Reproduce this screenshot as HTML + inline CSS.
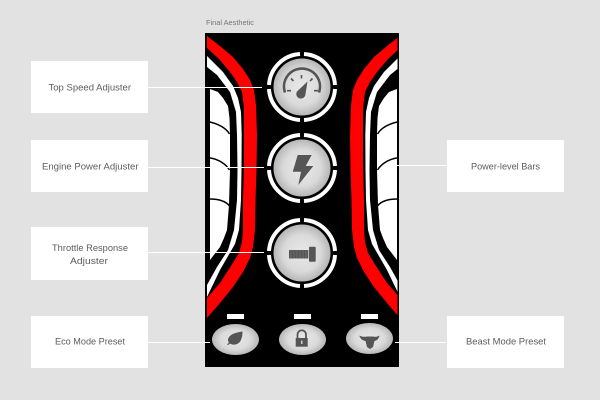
<!DOCTYPE html>
<html><head><meta charset="utf-8"><style>html,body{margin:0;padding:0;background:#e2e2e2}svg{display:block}text{font-family:"Liberation Sans",sans-serif}</style></head>
<body>
<svg width="600" height="400" viewBox="0 0 600 400" xmlns="http://www.w3.org/2000/svg">
<defs>
<radialGradient id="d" cx="50%" cy="50%" r="50%"><stop offset="0" stop-color="#e9e9e9"/><stop offset=".65" stop-color="#dadada"/><stop offset="1" stop-color="#b6b6b6"/></radialGradient>
<clipPath id="ph"><rect x="205" y="33" width="192.5" height="334"/></clipPath>
<g id="bands">
<polygon fill="#f00" points="207,36 220,46 233,57 243,69 250,80 254,90 256,105 257,135 256.5,170 255.5,200 255,230 253,247 250,258 243,272 233,287 220,303 207,318 207,298 220,283 231,266 239,253 242,242 243,230 243,200 244,165 244,135 244,108 242,92 237,82 230,72 219,59 207,48"/>
<polygon fill="#fff" points="207,56 223,72 233,86 238,98 241,112 241.7,135 241.5,170 241,200 239,230 235,244 220,270 207,297 207,285 217,267 228,250 234,230 237,200 237.5,170 237,135 236,112 230,92 217,75 207,67"/>
<polygon fill="#fff" points="210,89 218,92 223,98 228,106 229.5,118 230,135 230,170 229,205 227,230 224,238 220,247 210,260"/>
<g fill="none" stroke="#000" stroke-width="1.5">
<path d="M210 122 C218 124 226 128 229.5 134"/>
<path d="M210 158 C218 159 226 164 229.5 170"/>
<path d="M210 199 C218 199 226 201 229.5 206"/>
</g>
</g>
<g id="ring" fill="none" stroke="#fff" stroke-width="4">
<path d="M-2 -33 A33 33 0 0 0 -33 -2"/>
<path d="M2 -33 A33 33 0 0 1 33 -2"/>
<path d="M-2 33 A33 33 0 0 1 -33 2"/>
<path d="M2 33 A33 33 0 0 0 33 2"/>
</g>
</defs>
<rect width="600" height="400" fill="#e2e2e2"/>
<text x="206" y="25" font-size="7" fill="#777" textLength="48" lengthAdjust="spacingAndGlyphs">Final Aesthetic</text>
<rect x="205" y="33" width="194" height="334" fill="#000"/>
<use href="#bands"/>
<g clip-path="url(#ph)"><use href="#bands" transform="translate(607 0) scale(-1 1)"/></g>

<g fill="#fff">
<rect x="31" y="61" width="117" height="52"/>
<rect x="31" y="140" width="117" height="52"/>
<rect x="31" y="227" width="117" height="53"/>
<rect x="31" y="316" width="117" height="52"/>
<rect x="447" y="140" width="117" height="52"/>
<rect x="447" y="316" width="117" height="52"/>
</g>
<g fill="#5c5c5c" font-size="9.3" font-weight="400">
<text x="48.5" y="90.5" textLength="82.5" lengthAdjust="spacingAndGlyphs">Top Speed Adjuster</text>
<text x="42" y="169.5" textLength="96.5" lengthAdjust="spacingAndGlyphs">Engine Power Adjuster</text>
<text x="52" y="251" textLength="76" lengthAdjust="spacingAndGlyphs">Throttle Response</text>
<text x="70" y="264" textLength="38" lengthAdjust="spacingAndGlyphs">Adjuster</text>
<text x="55" y="344.5" textLength="70" lengthAdjust="spacingAndGlyphs">Eco Mode Preset</text>
<text x="471" y="169.5" textLength="69" lengthAdjust="spacingAndGlyphs">Power-level Bars</text>
<text x="466" y="344.5" textLength="80" lengthAdjust="spacingAndGlyphs">Beast Mode Preset</text>
</g>

<use href="#ring" x="302" y="87"/>
<use href="#ring" x="302" y="168"/>
<use href="#ring" x="302" y="253"/>
<circle cx="302" cy="87" r="28.5" fill="url(#d)"/>
<circle cx="302" cy="168" r="28.5" fill="url(#d)"/>
<circle cx="302" cy="253" r="28.5" fill="url(#d)"/>

<!-- gauge -->
<g fill="none" stroke="#555" stroke-width="2.2">
<path d="M285 92.5 A18 18 0 1 1 319 92.5" stroke-width="2.6"/>
<path d="M287 90.7H291M314 90.7H318M301.5 75V78.5M291 78.5L293.5 81M312.5 78.5L310 81" stroke-width="1.6"/>
</g>
<path d="M307.5 81.5 L305.5 94 A4.6 4.6 0 1 1 297 91.5 Z" fill="#555"/>
<!-- bolt -->
<path d="M297.7 155H311.7L305.7 166H313.3L298.3 185L301 171.7H292.7Z" fill="#555"/>
<!-- screw -->
<rect x="289" y="250" width="19.3" height="8.5" fill="#555"/>
<path d="M291 250v8.5M294 250v8.5M297 250v8.5M300 250v8.5M303 250v8.5M306 250v8.5" stroke="#777" stroke-width=".7"/>
<rect x="309" y="246.7" width="6.7" height="15" rx="1" fill="#555"/>

<!-- ovals -->
<ellipse cx="235.5" cy="339.5" rx="23.5" ry="15.5" fill="url(#d)"/>
<ellipse cx="302.5" cy="339.5" rx="23.5" ry="15.5" fill="url(#d)"/>
<ellipse cx="369.5" cy="338.5" rx="23.5" ry="15.5" fill="url(#d)"/>
<g fill="#fff">
<rect x="227" y="314" width="17" height="5"/>
<rect x="294" y="314" width="17" height="5"/>
<rect x="361" y="314" width="17" height="5"/>
</g>
<!-- leaf -->
<path d="M242.5 331.5 C236 332.5 230 334 228.5 338 C227.5 340 228 341.5 229 342.5 L227 344.5 L228.2 345 L230 343.5 C233 345.5 238 345 240.5 341 C242 338 242.5 335 242.5 331.5Z" fill="#555"/>
<!-- lock -->
<path d="M297.5 338V334.5A4.2 4.2 0 0 1 306 334.5V338" fill="none" stroke="#555" stroke-width="1.8"/>
<rect x="295.7" y="338" width="12" height="8.7" fill="#555"/>
<rect x="301" y="340.5" width="1.5" height="3.5" fill="#ccc"/>
<!-- bull -->
<path d="M359.3 335.5 C362 337 365 337 367 336.5 H373 C375 337 377 337 379.5 335.5 C379 338.5 377 340.5 374.5 341 L373 347 L370 349 L367 347 L365.5 341 C362.5 340.5 360 338.5 359.3 335.5Z" fill="#555"/>

<!-- connectors -->
<g stroke="#fff" stroke-width="1" fill="none">
<path d="M148 87.5H262"/>
<path d="M148 167.5H264"/>
<path d="M148 252.5H264"/>
<path d="M148 342.5H210"/>
<path d="M397 165.5H447"/>
<path d="M395 342.5H446"/>
</g>
</svg>
</body></html>
